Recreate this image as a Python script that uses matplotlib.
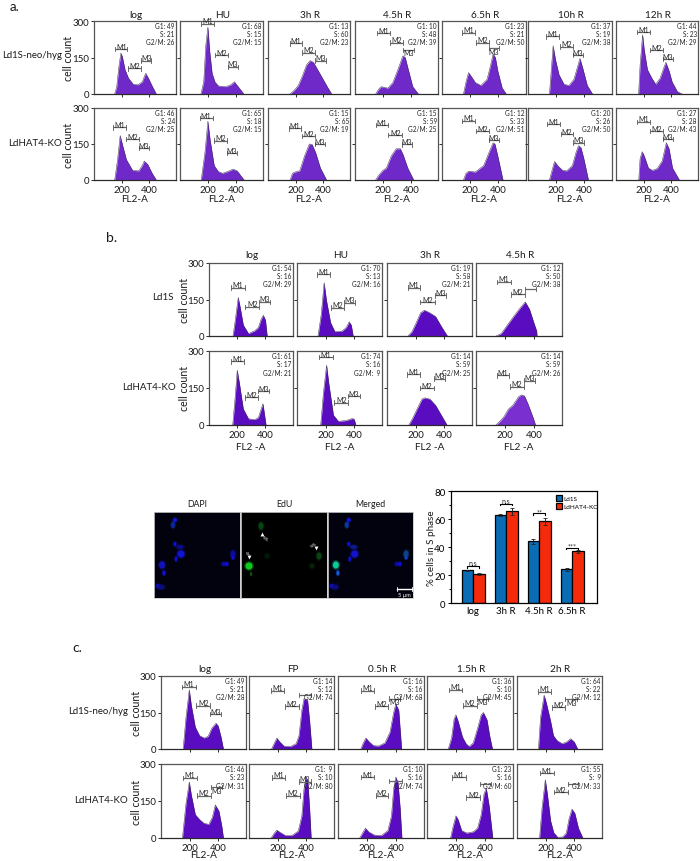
import matplotlib
matplotlib.use("Agg")
import matplotlib.pyplot as plt
from matplotlib.patches import Ellipse

plt.rcParams['font.family'] = ['Lato', 'DejaVu Sans']

W, H = 700, 862
DARK = '#2b2b2b'
PURPLE_A = '#7029c9'
PURPLE_B = '#5a0cc0'
PURPLE_LIGHT = '#7a30d0'

### panel a ###
a_titles = ['log', 'HU', '3h R', '4.5h R', '6.5h R', '10h R', '12h R']
a_rows = ['Ld1S-neo/hyg', 'LdHAT4-KO']
a_stats = [[('49', '21', '26'), ('68', '15', '15'), ('13', '60', '23'), ('10', '48', '39'), ('23', '21', '50'), ('37', '19', '38'), ('44', '23', '29')],
           [('46', '24', '25'), ('65', '18', '15'), ('15', '65', '19'), ('15', '59', '25'), ('12', '33', '51'), ('20', '26', '50'), ('27', '28', '43')]]
a_x = [[[150, 165, 180, 195, 205, 225, 250, 285, 320, 350, 375, 395, 420, 452],
        [150, 170, 185, 200, 212, 230, 250, 275, 330, 365, 390, 420, 458],
        [160, 190, 220, 250, 280, 305, 330, 360, 390, 430, 462],
        [148, 170, 188, 236, 271, 307, 343, 360, 378, 414, 455],
        [152, 170, 188, 210, 236, 276, 319, 345, 362, 378, 395, 426, 455],
        [152, 165, 178, 195, 219, 255, 290, 325, 350, 368, 386, 420, 457],
        [164, 175, 193, 205, 228, 260, 288, 320, 345, 362, 385, 407, 445, 480]],
       [[150, 170, 190, 205, 235, 280, 325, 350, 365, 390, 420, 452],
        [152, 180, 200, 215, 245, 275, 305, 340, 380, 410, 440, 460],
        [160, 178, 195, 230, 265, 300, 320, 345, 380, 425],
        [148, 170, 200, 225, 260, 295, 325, 345, 378, 421],
        [152, 170, 190, 235, 295, 340, 362, 375, 395, 432],
        [152, 170, 188, 210, 245, 275, 314, 340, 358, 375, 395, 428],
        [165, 175, 190, 205, 235, 265, 300, 335, 365, 385, 410, 460]]]
a_y = [[[0, 30, 110, 168, 155, 100, 65, 40, 38, 50, 85, 65, 35, 0],
        [0, 50, 200, 275, 180, 85, 50, 33, 30, 38, 50, 28, 0],
        [0, 15, 35, 75, 120, 137, 130, 100, 70, 30, 0],
        [0, 20, 30, 24, 47, 99, 157, 150, 109, 30, 0],
        [0, 50, 88, 70, 47, 35, 60, 120, 165, 150, 95, 25, 0],
        [0, 100, 198, 140, 80, 40, 35, 60, 110, 146, 110, 35, 0],
        [0, 120, 243, 180, 100, 65, 40, 65, 105, 130, 95, 50, 10, 0]],
       [[0, 80, 185, 150, 85, 40, 38, 60, 79, 65, 30, 0],
        [0, 120, 245, 170, 60, 35, 28, 35, 45, 38, 15, 0],
        [0, 28, 33, 38, 100, 150, 148, 115, 50, 0],
        [0, 20, 40, 50, 100, 130, 130, 105, 50, 0],
        [0, 28, 37, 33, 60, 125, 155, 150, 100, 0],
        [0, 40, 77, 60, 40, 38, 60, 115, 143, 135, 90, 0],
        [0, 90, 118, 100, 50, 40, 48, 80, 155, 130, 50, 0]]]
# M1, M2, M3 : start, end, height
a_gates = [[[(152, 243, 185), (245, 343, 105), (343, 417, 137)],
            [(152, 245, 288), (250, 345, 160), (343, 417, 112)],
            [(158, 250, 208), (250, 343, 170), (343, 420, 137)],
            [(157, 248, 250), (250, 343, 211), (343, 422, 181)],
            [(145, 236, 252), (238, 333, 211), (333, 405, 188)],
            [(129, 222, 237), (224, 317, 195), (317, 390, 160)],
            [(154, 245, 254), (247, 340, 181), (340, 412, 143)]],
           [[(138, 229, 219), (231, 326, 171), (326, 400, 132)],
            [(142, 233, 257), (243, 338, 164), (336, 409, 113)],
            [(152, 240, 215), (247, 338, 182), (338, 412, 150)],
            [(147, 238, 229), (240, 338, 188), (338, 409, 148)],
            [(145, 236, 247), (238, 333, 204), (331, 405, 167)],
            [(136, 224, 233), (231, 321, 192), (321, 395, 156)],
            [(154, 245, 243), (247, 340, 204), (340, 414, 170)]]]
a_m3 = [['up', 'up', 'up', 'down', 'down', 'up', 'up'], ['up'] * 7]

### panel b ###
b_titles = ['log', 'HU', '3h R', '4.5h R']
b_rows = ['Ld1S', 'LdHAT4-KO']
b_stats = [[('54', '16', '29'), ('70', '13', '16'), ('19', '58', '21'), ('12', '50', '38')],
           [('61', '17', '21'), ('74', '16', ' 9'), ('14', '59', '25'), ('14', '59', '26')]]
b_x = [[[170, 185, 207, 220, 243, 280, 325, 350, 370, 385, 400, 412],
        [147, 170, 190, 205, 235, 265, 315, 345, 365, 380, 393],
        [147, 175, 205, 235, 262, 300, 340, 385, 423],
        [140, 175, 217, 260, 305, 341, 370, 400, 420, 422]],
       [[168, 185, 200, 215, 243, 280, 325, 350, 370, 382, 404],
        [166, 185, 207, 222, 255, 290, 345, 385, 400, 412],
        [153, 180, 215, 245, 265, 300, 340, 375, 420],
        [138, 165, 195, 225, 255, 295, 315, 335, 360, 395, 412]]]
b_y = [[[0, 60, 158, 120, 45, 10, 22, 35, 70, 85, 65, 0],
        [0, 90, 219, 150, 55, 18, 20, 35, 58, 45, 0],
        [0, 18, 55, 95, 106, 95, 80, 35, 0],
        [0, 10, 45, 80, 115, 140, 110, 55, 20, 0]],
       [[0, 110, 222, 170, 65, 25, 22, 30, 65, 86, 0],
        [0, 130, 242, 170, 40, 15, 18, 26, 24, 0],
        [0, 28, 70, 105, 110, 105, 80, 45, 0],
        [0, 15, 35, 65, 80, 115, 122, 118, 85, 30, 0]]]
b_gates = [[[(159, 253, 199), (258, 354, 120), (354, 430, 141)],
            [(138, 233, 253), (236, 332, 117), (332, 409, 137)],
            [(147, 233, 199), (233, 334, 140), (334, 413, 167)],
            [(147, 243, 223), (243, 339, 171), (339, 416, 194)]],
           [[(157, 250, 258), (253, 349, 112), (349, 423, 137)],
            [(154, 253, 275), (260, 358, 91), (358, 438, 117)],
            [(142, 229, 205), (229, 332, 150), (332, 406, 188)],
            [(147, 228, 201), (233, 331, 156), (331, 408, 180)]]]
b_m3 = [['up', 'up', 'up', None], ['up', 'up', 'up', 'up']]

### panel c ###
c_titles = ['log', 'FP', '0.5h R', '1.5h R', '2h R']
c_rows = ['Ld1S-neo/hyg', 'LdHAT4-KO']
c_stats = [[('49', '21', '28'), ('14', '12', '74'), ('16', '16', '68'), ('36', '10', '45'), ('64', '22', '12')],
           [('46', '23', '31'), (' 9', '10', '80'), ('10', '16', '74'), ('23', '16', '60'), ('55', ' 9', '33')]]
c_x = [[[155, 175, 198, 212, 240, 270, 302, 330, 355, 385, 400, 420, 437],
        [158, 178, 195, 215, 245, 290, 330, 350, 370, 385, 410, 425, 440],
        [158, 175, 193, 215, 245, 280, 325, 360, 385, 400, 420, 440],
        [147, 170, 188, 200, 215, 245, 270, 292, 320, 350, 375, 390, 415, 435, 453],
        [150, 165, 190, 205, 235, 255, 280, 315, 345, 375, 400, 425]],
       [[150, 175, 198, 212, 240, 270, 300, 335, 360, 380, 405, 425, 437],
        [155, 175, 195, 220, 255, 300, 345, 370, 385, 400, 412, 425, 435],
        [150, 172, 190, 212, 250, 300, 345, 370, 385, 400, 415, 430, 442],
        [163, 180, 200, 215, 240, 275, 320, 350, 375, 395, 410, 430, 455],
        [158, 175, 198, 212, 235, 257, 285, 320, 345, 365, 385, 405, 430, 461]]]
c_y = [[[0, 130, 243, 180, 90, 55, 45, 52, 85, 106, 95, 50, 0],
        [0, 25, 45, 30, 12, 10, 22, 55, 160, 207, 200, 110, 0],
        [0, 25, 45, 30, 14, 12, 25, 70, 150, 185, 160, 0],
        [0, 45, 125, 140, 115, 50, 22, 10, 25, 85, 140, 150, 120, 50, 0],
        [0, 130, 221, 190, 115, 55, 35, 22, 28, 42, 30, 0]],
       [[0, 140, 227, 175, 95, 75, 60, 55, 85, 134, 110, 50, 0],
        [0, 18, 32, 22, 10, 10, 28, 90, 200, 247, 230, 110, 0],
        [0, 22, 40, 25, 12, 10, 30, 90, 200, 247, 225, 120, 0],
        [0, 45, 90, 75, 30, 20, 25, 40, 95, 180, 202, 130, 0],
        [0, 120, 236, 180, 70, 22, 3, 4, 20, 80, 117, 100, 40, 0]]]
c_gates = [[[(149, 244, 256), (246, 344, 178), (342, 420, 144)],
            [(154, 246, 240), (254, 349, 175), (349, 434, 221)],
            [(156, 249, 240), (254, 349, 175), (356, 429, 207)],
            [(149, 244, 243), (249, 344, 178), (344, 424, 207)],
            [(144, 239, 236), (244, 339, 171), (339, 422, 205)]],
           [[(151, 249, 244), (254, 349, 172), (349, 429, 206)],
            [(158, 251, 245), (256, 356, 172), (351, 432, 229)],
            [(156, 249, 247), (261, 349, 172), (356, 441, 231)],
            [(173, 268, 246), (273, 368, 165), (366, 444, 220)],
            [(161, 256, 263), (259, 354, 186), (354, 427, 220)]]]
c_m3 = [['up', None, 'down', 'down', 'down'], ['down', 'up', None, None, None]]

### bar chart ###
bar_labels = ['log', '3h R', '4.5h R', '6.5h R']
bar_ld1s = [23.5, 63, 44, 24]
bar_ko = [21, 65.5, 58.5, 37]
err_ld1s = [0.3, 0.8, 1.8, 1]
err_ko = [0.7, 2.5, 2.5, 1]
sig_labels = ['n.s', 'n.s', '**', '***']
sig_heights = [26.3, 70.7, 64, 39.6]

### microscopy ###
img_titles = ['DAPI', 'EdU', 'Merged']
nuc_x = [21, 19, 21, 26, 27, 22, 8, 10, 4, 7, 79, 79, 70, 73]
nuc_y = [8, 13, 32, 35, 42, 47, 53, 61, 74, 75, 42, 46, 52, 52]
nuc_w = [4, 4, 3, 7, 7, 2.5, 6, 3, 4, 7, 5, 3, 5, 3]
nuc_h = [4, 6, 4, 4, 7, 5, 7, 5, 4, 5, 7, 3, 4, 4]
nuc_dapi = ['#1414f0', '#0c2ca8', '#1010f0', '#0c0c90', '#1414e0', '#1010f0', '#1414c8', '#1010f0', '#1010e8', '#0c0c88', '#0c0ca8', '#1010e8', '#0c0cb0', '#1010e0']
nuc_merged = ['#1414f0', '#0c3caa', '#1010f0', '#0c1c90', '#1414e0', '#1010f0', '#10d8a0', '#1060f0', '#1010e8', '#0c0c88', '#0c4890', '#1040e8', '#0c0cb0', '#1010e0']
edu_x = [20, 8, 10, 26, 78, 71]
edu_y = [14, 54, 62, 44, 44, 54]
edu_w = [5, 7, 2, 5, 5, 5]
edu_h = [7, 7, 4, 5, 7, 5]
edu_color = ['#0a4a14', '#10d820', '#0a6014', '#041c08', '#0a4a14', '#062408']


def px_axes(left, top, right, bottom):
    return fig.add_axes([left / W, 1 - bottom / H, (right - left) / W, (bottom - top) / H])


def txt(x, y, s, size=7.2, ha='center', va='center', **kw):
    fig.text(x / W, 1 - y / H, s, fontsize=size, ha=ha, va=va, color='#1a1a1a', **kw)


def gate(ax, x0, x1, y, label, mode):
    ax.plot([x0, x1], [y, y], color='#666666', lw=0.9, solid_capstyle='butt', zorder=3)
    for xx in (x0, x1):
        ax.plot([xx, xx], [y - 9, y + 9], color='#555555', lw=0.6, zorder=3)
    if mode is None:
        return
    dy = 12 if mode == 'up' else -12
    ax.text((x0 + x1) / 2, y + dy, label, fontsize=5, ha='center', va='center', color='#222222', zorder=4)


def hist_panel(left, top, right, bottom, x, y, gates, stats, m3, color, first_col, last_row):
    ax = px_axes(left, top, right, bottom)
    ax.fill_between(x, y, 0, color=color, lw=0, zorder=2)
    ax.plot(x, y, color='#3a2a50', lw=0.35, zorder=2)
    ax.set_xlim(0, 595)
    ax.set_ylim(0, 300)
    gate(ax, *gates[0], 'M1', 'up')
    gate(ax, *gates[1], 'M2', 'up')
    gate(ax, *gates[2], 'M3', m3)
    ax.set_xticks([200, 400])
    ax.set_yticks([0, 150, 300] if first_col else [150])
    ax.tick_params(length=2, width=0.7, pad=1.5, labelsize=7, color=DARK, labelcolor='#1a1a1a')
    ax.tick_params(labelbottom=last_row, labelleft=first_col)
    for s in ax.spines.values():
        s.set_linewidth(0.9)
        s.set_color('#555555')
    ax.spines['bottom'].set_color(DARK)
    g1, s_, g2 = stats
    for i, line in enumerate(['G1: ' + g1, 'S: ' + s_, 'G2/M: ' + g2]):
        ax.text(0.985, 0.94 - i * 0.112, line, transform=ax.transAxes, ha='right', va='center',
                fontsize=4.7, color='#222222', zorder=5)
    return ax


fig = plt.figure(figsize=(W / 100, H / 100), dpi=100)

### a ###
a_cols = [(94, 176), (180, 263), (268, 350), (355, 438), (442, 526), (528, 612), (616, 698)]
a_tops = [(22, 95), (109, 181)]
for r in range(2):
    for c in range(7):
        hist_panel(a_cols[c][0], a_tops[r][0], a_cols[c][1], a_tops[r][1], a_x[r][c], a_y[r][c],
                   a_gates[r][c], a_stats[r][c], a_m3[r][c], PURPLE_A, c == 0, r == 1)
for c in range(7):
    txt(sum(a_cols[c]) / 2 + 1, 15, a_titles[c])
    txt(sum(a_cols[c]) / 2, 200, 'FL2-A')
txt(62, 56, a_rows[0], ha='right', size=6.9)
txt(62, 144, a_rows[1], ha='right', size=7)
txt(68.5, 58, 'cell count', rotation=90, size=7.6)
txt(68.5, 145, 'cell count', rotation=90, size=7.6)
txt(10, 7, 'a.', size=9.5, ha='left')

### b ###
b_cols = [(209, 293), (297, 382), (387, 472), (476, 562)]
b_tops = [(264, 337), (352, 426)]
for r in range(2):
    for c in range(4):
        col = PURPLE_LIGHT if (r == 1 and c == 3) else PURPLE_B
        hist_panel(b_cols[c][0], b_tops[r][0], b_cols[c][1], b_tops[r][1], b_x[r][c], b_y[r][c],
                   b_gates[r][c], b_stats[r][c], b_m3[r][c], col, c == 0, r == 1)
for c in range(4):
    txt(sum(b_cols[c]) / 2 + 1, 256, b_titles[c])
    txt(sum(b_cols[c]) / 2, 448, 'FL2 -A')
txt(174, 297, b_rows[0], ha='right', size=7)
txt(176, 387, b_rows[1], ha='right', size=7)
txt(184, 300, 'cell count', rotation=90, size=7.6)
txt(184, 388, 'cell count', rotation=90, size=7.6)
txt(106, 238, 'b.', size=10, ha='left')

### c ###
c_cols = [(161, 246), (249, 334), (338, 424), (427, 513), (517, 602)]
c_tops = [(677, 750), (765, 839)]
for r in range(2):
    for c in range(5):
        hist_panel(c_cols[c][0], c_tops[r][0], c_cols[c][1], c_tops[r][1], c_x[r][c], c_y[r][c],
                   c_gates[r][c], c_stats[r][c], c_m3[r][c], PURPLE_B, c == 0, r == 1)
for c in range(5):
    txt(sum(c_cols[c]) / 2 + 1, 669, c_titles[c])
    txt(sum(c_cols[c]) / 2, 856, 'FL2-A')
txt(128, 711, c_rows[0], ha='right', size=6.9)
txt(128, 801, c_rows[1], ha='right', size=7)
txt(136, 713, 'cell count', rotation=90, size=7.6)
txt(136, 802, 'cell count', rotation=90, size=7.6)
txt(72, 648, 'c.', size=10, ha='left')

### images ###
img_cols = [(154, 240), (241, 327), (328, 413)]
for i, (l, r) in enumerate(img_cols):
    ax = px_axes(l, 513, r, 599)
    ax.set_facecolor('#02020e' if i != 1 else '#000000')
    ax.set_xlim(0, 86)
    ax.set_ylim(86, 0)
    ax.set_xticks([])
    ax.set_yticks([])
    for s in ax.spines.values():
        s.set_color('#c8c8c8')
        s.set_linewidth(0.6)
    txt((l + r) / 2, 505, img_titles[i], size=6.3)
    if i == 1:
        xs, ys, ws, hs, cols = edu_x, edu_y, edu_w, edu_h, edu_color
    else:
        xs, ys, ws, hs = nuc_x, nuc_y, nuc_w, nuc_h
        cols = nuc_dapi if i == 0 else nuc_merged
    for xx, yy, w, h, col in zip(xs, ys, ws, hs, cols):
        ax.add_patch(Ellipse((xx, yy), w * 1.4, h * 1.4, color=col, alpha=0.3, lw=0))
        ax.add_patch(Ellipse((xx, yy), w, h, color=col, alpha=0.9, lw=0))
    if i == 1:
        ax.plot([21], [22], marker='^', ms=2.8, color='white', mew=0)
        ax.text(24, 26, 'W.L', fontsize=2.8, color='white', ha='center', va='center', rotation=-35)
        ax.plot([7.7], [45], marker='v', ms=2.8, color='white', mew=0)
        ax.text(7.5, 41, 'S.L', fontsize=2.8, color='white', ha='center', va='center')
        ax.plot([75], [36], marker='v', ms=2.8, color='white', mew=0)
        ax.text(73, 32, 'W.L', fontsize=2.8, color='white', ha='center', va='center', rotation=35)
    if i == 2:
        ax.plot([70, 85], [77, 77], color='white', lw=1)
        ax.plot([70, 70], [75, 79], color='white', lw=0.6)
        ax.plot([85, 85], [75, 79], color='white', lw=0.6)
        ax.text(77.5, 82, '5 µm', fontsize=4, color='white', ha='center', va='center')

### bars ###
ax = px_axes(451, 492, 597, 604)
pos = list(range(len(bar_labels)))
wd = 0.345
left_x = [p - wd / 2 for p in pos]
right_x = [p + wd / 2 for p in pos]
ekw = dict(ecolor='#222222', elinewidth=0.7, capsize=1.5, capthick=0.6)
ax.bar(left_x, bar_ld1s, wd, yerr=err_ld1s, color='#0a6cb4', edgecolor='black', lw=0.9, error_kw=ekw, label='Ld1S')
ax.bar(right_x, bar_ko, wd, yerr=err_ko, color='#f42a0a', edgecolor='black', lw=0.9, error_kw=ekw, label='LdHAT4-KO')
ax.set_xlim(-0.67, 3.75)
ax.set_ylim(0, 80)
ax.set_xticks(pos)
ax.set_xticklabels(bar_labels)
ax.set_yticks([0, 20, 40, 60, 80])
ax.set_yticks([10, 30, 50, 70], minor=True)
ax.tick_params(axis='y', length=2.5, width=0.7, pad=1.5, labelsize=7)
ax.tick_params(axis='y', which='minor', length=1.5, width=0.7)
ax.tick_params(axis='x', length=0, pad=2.5, labelsize=7)
for s in ax.spines.values():
    s.set_linewidth(0.9)
for p, lab, h in zip(pos, sig_labels, sig_heights):
    ax.plot([p - 0.18, p - 0.18, p + 0.18, p + 0.18], [h - 1, h, h, h - 1], color='black', lw=0.8)
    ax.text(p, h + (2.6 if lab == 'n.s' else 1.2), lab, fontsize=5, ha='center', va='center', color='#222222')
ax.legend(loc='upper left', bbox_to_anchor=(0.69, 0.995), frameon=False, fontsize=4.6, handlelength=1,
          handleheight=1, handletextpad=0.2, labelspacing=0.25, borderpad=0.1)
txt(431, 548, '% cells in S phase', rotation=90, size=7.1)

fig.savefig('out.png', dpi=100)
